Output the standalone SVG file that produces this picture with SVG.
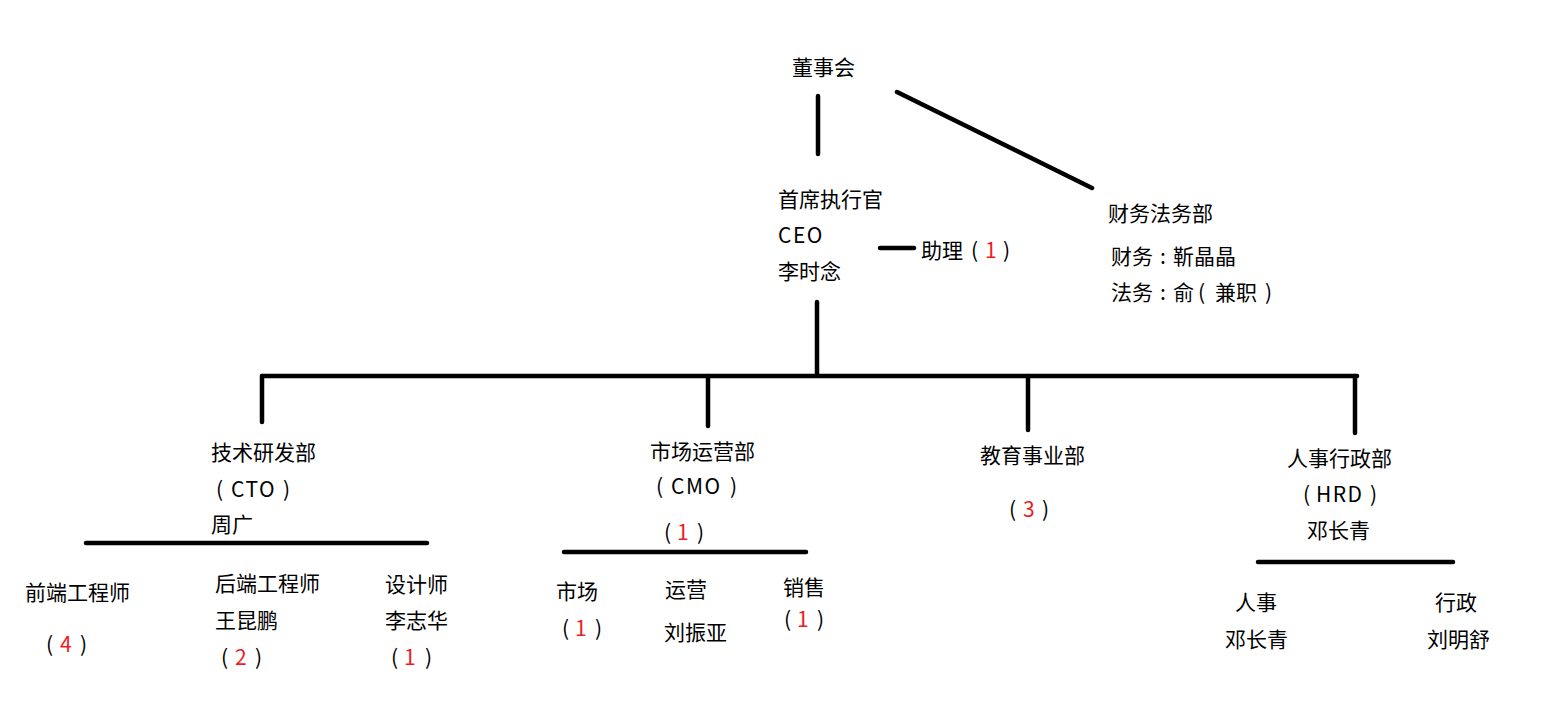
<svg xmlns="http://www.w3.org/2000/svg" width="1542" height="709" viewBox="0 0 1542 709">
<style>
text{font-family:"Noto Sans CJK SC","Microsoft YaHei",sans-serif;font-size:21px;fill:#000}
.r{fill:#ed1c24}
.l{letter-spacing:1.5px}
.ln{stroke:#000;stroke-width:4.5;stroke-linecap:round;fill:none}
</style>
<rect width="1542" height="709" fill="#fff"/>
<g id="connectors">
<line class="ln" x1="818" y1="96" x2="818" y2="154"/>
<line class="ln" x1="897" y1="92" x2="1092" y2="188"/>
<line class="ln" x1="880" y1="248" x2="914" y2="248"/>
<line class="ln" x1="817" y1="302" x2="817" y2="375"/>
<line class="ln" x1="262" y1="376" x2="1357" y2="376"/>
<line class="ln" x1="262" y1="376" x2="262" y2="422"/>
<line class="ln" x1="708" y1="376" x2="708" y2="426"/>
<line class="ln" x1="1028" y1="376" x2="1028" y2="430"/>
<line class="ln" x1="1355" y1="376" x2="1355" y2="433"/>
<line class="ln" x1="86" y1="543" x2="427" y2="543"/>
<line class="ln" x1="564" y1="552" x2="806" y2="552"/>
<line class="ln" x1="1258" y1="562" x2="1453" y2="562"/>
</g>
<g id="board"><text x="792" y="75">董事会</text></g>
<g id="ceo">
<text x="778" y="207">首席执行官</text>
<text x="778" y="243" class="l">CEO</text>
<text x="778" y="279">李时念</text>
</g>
<g id="assistant"><text y="258"><tspan x="921">助理</tspan><tspan x="971">(</tspan><tspan x="985" class="r">1</tspan><tspan x="1003">)</tspan></text></g>
<g id="finance">
<text x="1108" y="221">财务法务部</text>
<text y="264"><tspan x="1111">财务</tspan><tspan x="1160">:</tspan><tspan x="1173">靳晶晶</tspan></text>
<text y="300"><tspan x="1111">法务</tspan><tspan x="1160">:</tspan><tspan x="1173">俞</tspan><tspan x="1198">(</tspan><tspan x="1215">兼职</tspan><tspan x="1265">)</tspan></text>
</g>
<g id="tech">
<text x="211" y="460">技术研发部</text>
<text y="497"><tspan x="216">(</tspan><tspan x="231" class="l">CTO</tspan><tspan x="283">)</tspan></text>
<text x="211" y="532">周广</text>
</g>
<g id="frontend">
<text x="25" y="600">前端工程师</text>
<text y="652"><tspan x="46">(</tspan><tspan x="60" class="r">4</tspan><tspan x="80">)</tspan></text>
</g>
<g id="backend">
<text x="215" y="591">后端工程师</text>
<text x="215" y="628">王昆鹏</text>
<text y="665"><tspan x="221">(</tspan><tspan x="235" class="r">2</tspan><tspan x="255">)</tspan></text>
</g>
<g id="designer">
<text x="385" y="592">设计师</text>
<text x="385" y="628">李志华</text>
<text y="665"><tspan x="391">(</tspan><tspan x="404" class="r">1</tspan><tspan x="425">)</tspan></text>
</g>
<g id="marketing">
<text x="650" y="459">市场运营部</text>
<text y="494"><tspan x="656">(</tspan><tspan x="671" class="l">CMO</tspan><tspan x="730">)</tspan></text>
<text y="540"><tspan x="664">(</tspan><tspan x="677" class="r">1</tspan><tspan x="697">)</tspan></text>
</g>
<g id="market">
<text x="556" y="599">市场</text>
<text y="636"><tspan x="562">(</tspan><tspan x="575" class="r">1</tspan><tspan x="595">)</tspan></text>
</g>
<g id="ops">
<text x="665" y="597">运营</text>
<text x="664" y="640">刘振亚</text>
</g>
<g id="sales">
<text x="783" y="595">销售</text>
<text y="627"><tspan x="784">(</tspan><tspan x="797" class="r">1</tspan><tspan x="817">)</tspan></text>
</g>
<g id="edu">
<text x="980" y="463">教育事业部</text>
<text y="517"><tspan x="1009">(</tspan><tspan x="1023" class="r">3</tspan><tspan x="1042">)</tspan></text>
</g>
<g id="hr">
<text x="1287" y="466">人事行政部</text>
<text y="502"><tspan x="1303">(</tspan><tspan x="1316" class="l">HRD</tspan><tspan x="1370">)</tspan></text>
<text x="1307" y="538">邓长青</text>
</g>
<g id="hr-staff">
<text x="1235" y="610">人事</text>
<text x="1225" y="647">邓长青</text>
</g>
<g id="admin">
<text x="1435" y="610">行政</text>
<text x="1427" y="647">刘明舒</text>
</g>
</svg>
